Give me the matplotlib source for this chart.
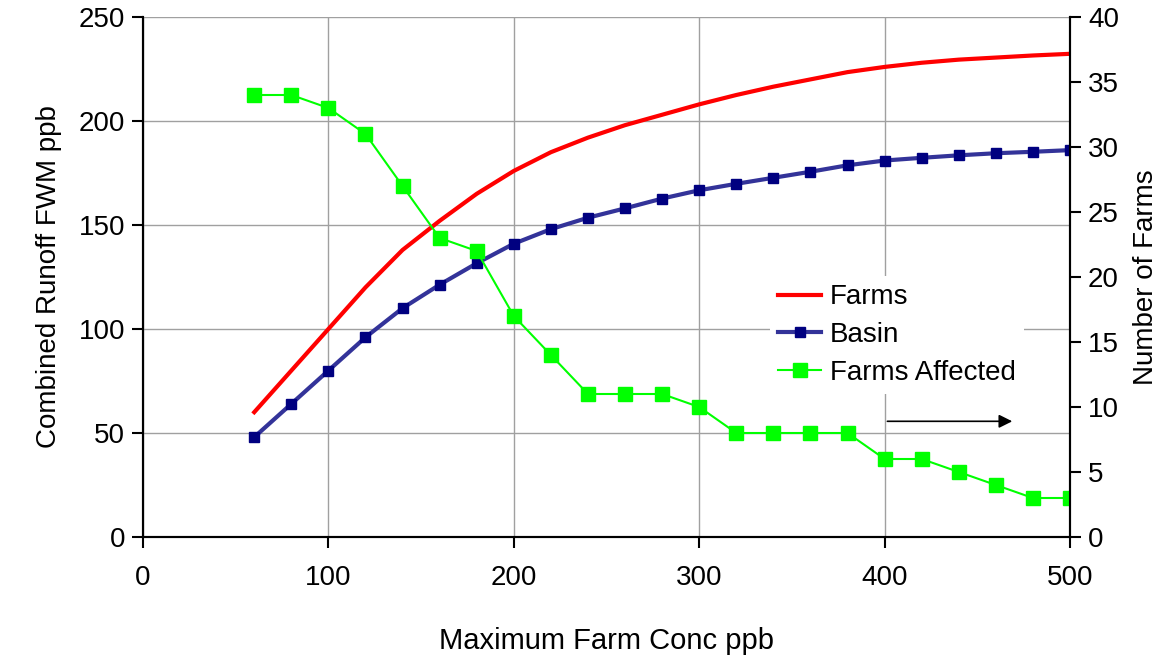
import numpy as np
import matplotlib
matplotlib.use("Agg")
import matplotlib.pyplot as plt

plt.rcParams['font.family'] = ['Liberation Sans', 'DejaVu Sans']

# data
conc = [60, 80, 100, 120, 140, 160, 180, 200, 220, 240, 260, 280,
        300, 320, 340, 360, 380, 400, 420, 440, 460, 480, 500]
farms = [60, 80, 100, 120, 138, 152, 165, 176, 185, 192, 198, 203,
         208, 212.5, 216.5, 220, 223.5, 226, 228, 229.5, 230.5, 231.5, 232.3]
basin = [48, 64, 80, 96, 110, 121.3, 131.6, 141, 148, 153.5, 158, 162.7,
         166.7, 169.8, 172.7, 175.6, 178.7, 181, 182.3, 183.5, 184.5, 185.2, 186]
affected = [34, 34, 33, 31, 27, 23, 22, 17, 14, 11, 11, 11,
            10, 8, 8, 8, 8, 6, 6, 5, 4, 3, 3]

FS = 20

fig = plt.figure(figsize=(11.66, 6.55), dpi=100)
ax = fig.add_axes([143/1166, 1-537/655, (1070-143)/1166, (537-17)/655])
ax2 = ax.twinx()

l1, = ax.plot(conc, farms, color='#ff0000', lw=3, label='Farms')
l2, = ax.plot(conc, basin, color='#333399', lw=3, marker='s', ms=7,
              mfc='#000080', mec='#000080', label='Basin')
l3, = ax2.plot(conc, affected, color='#00ff00', lw=1.5, marker='s', ms=10,
               mfc='#00ff00', mec='#00ff00', label='Farms Affected')

ax.set_xlim(0, 500)
ax.set_ylim(0, 250)
ax2.set_ylim(0, 40)
ax.set_xticks(range(0, 501, 100))
ax.set_yticks(range(0, 251, 50))
ax2.set_yticks(range(0, 41, 5))

ax.grid(True, color='#a0a0a0', lw=1)
ax.set_axisbelow(True)
for a in (ax, ax2):
    a.spines['top'].set_visible(False)
    for s in ('left', 'right', 'bottom'):
        a.spines[s].set_linewidth(1.5)
    a.tick_params(labelsize=FS, length=8, width=1.5, direction='out', pad=5)
ax.tick_params(axis='x', pad=12)

ax.set_xlabel('Maximum Farm Conc ppb', fontsize=21, labelpad=26)
ax.set_ylabel('Combined Runoff FWM ppb', fontsize=FS, labelpad=12)
ax2.set_ylabel('Number of Farms', fontsize=FS, labelpad=10)

leg = ax2.legend(handles=[l1, l2, l3], loc='upper left',
                 bbox_to_anchor=(770/1166, 1-276/655), bbox_transform=fig.transFigure,
                 frameon=True, fontsize=FS, handlelength=1.55, handletextpad=0.3,
                 labelspacing=0.42, borderaxespad=0, borderpad=0.3)
leg.get_frame().set_edgecolor('none')
leg.get_frame().set_facecolor('white')
leg.get_frame().set_alpha(1)

ax2.annotate('', xy=(0.9407, 0.2225), xytext=(0.800, 0.2225),
             xycoords='axes fraction', textcoords='axes fraction',
             arrowprops=dict(arrowstyle='-|>', color='black', lw=1.2,
                             mutation_scale=20))

fig.savefig('out.png', dpi=100)
